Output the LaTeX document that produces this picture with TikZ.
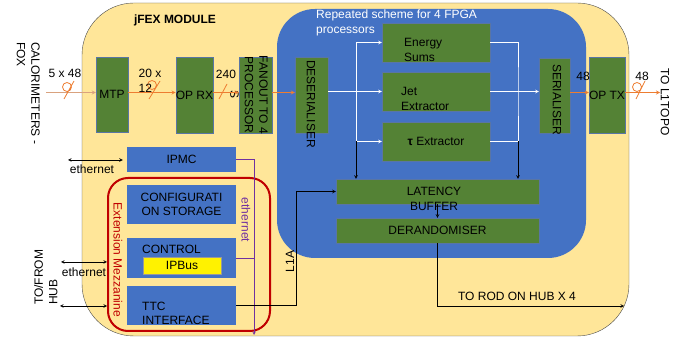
\documentclass[tikz,border=0pt]{standalone}
\usepackage{fontspec}
\setmainfont{Liberation Sans}
\usetikzlibrary{positioning}
\definecolor{modyellow}{HTML}{FFE699}
\definecolor{fpgablue}{HTML}{4472C4}
\definecolor{blockgreen}{HTML}{548235}
\definecolor{edgeblue}{HTML}{2F528F}
\definecolor{mezzred}{HTML}{C00000}
\definecolor{ethpurple}{HTML}{7030A0}
\definecolor{fibreorange}{HTML}{ED7D31}
\definecolor{caloline}{HTML}{D9A27E}

\begin{document}
\begin{tikzpicture}[
    x=1pt, y=-1pt,
    font=\fontsize{12}{14.5}\selectfont,
    module/.style={rectangle, draw=black!70, fill=modyellow, rounded corners=52pt},
    fpga/.style={rectangle, fill=fpgablue, rounded corners=38pt},
    blk/.style={rectangle, draw=edgeblue!80, fill=blockgreen, inner sep=0pt},
    ctrl/.style={rectangle, fill=fpgablue, inner sep=0pt, minimum width=109pt, align=center},
    vtext/.style={rotate=-90, align=center, inner sep=0pt},
    fibre/.style={-stealth, fibreorange, thick},
    fibresym/.style={fibreorange, thick},
    data/.style={-stealth, white, semithick},
    link/.style={-stealth, black, semithick},
    eth/.style={stealth-stealth, black, semithick},
    ethline/.style={ethpurple, semithick}
]
\useasboundingbox (0,0) rectangle (694,339);

% Module and FPGA area
\node[module, minimum width=547pt, minimum height=333pt] (module) at (355.5,169.5) {};
\node[fpga, minimum width=309pt, minimum height=249pt] (fpga) at (431.5,133.5) {};
\node[font=\fontsize{12}{14.5}\selectfont\bfseries] (modlbl) at (175,20) {jFEX MODULE};
\node[anchor=north west, align=left, text=white, inner sep=0pt] (fpgalbl) at (316,10) {Repeated scheme for 4 FPGA\\processors};

% Optical path
\node[blk, minimum width=32pt, minimum height=75pt] (mtp) at (112,94.5) {MTP};
\node[blk, minimum width=33pt, minimum height=76pt] (oprx) at (194.5,95) {OP RX};
\node[blk, minimum width=33pt, minimum height=76pt] (fanout) at (255.5,95) {};
\node[vtext] (fanouttxt) at (249,95) {FANOUT TO 4\\PROCESSOR\\S};
\node[blk, minimum width=33pt, minimum height=76pt] (deser) at (311.5,95) {};
\node[vtext] (desertxt) at (311,104) {DESERIALISER};
\node[blk, minimum width=31pt, minimum height=75pt] (ser) at (554.5,95.5) {};
\node[vtext] (sertxt) at (557,99.5) {SERIALISER};
\node[blk, minimum width=32pt, minimum height=76pt] (optx) at (607,95) {OP TX};

% Algorithm blocks
\node[blk, minimum width=108pt, minimum height=39pt] (energy) at (436,42.5) {};
\node[anchor=west, align=left, inner sep=0pt] (energytxt) at (404,50) {Energy\\Sums};
\node[blk, minimum width=108pt, minimum height=39pt] (jet) at (436,91.5) {};
\node[anchor=west, align=left, inner sep=0pt] (jettxt) at (401,99) {Jet\\Extractor};
\node[blk, minimum width=108pt, minimum height=39pt] (tau) at (436,141.5) {{\bfseries τ} Extractor};
\node[blk, minimum width=203pt, minimum height=25pt] (latency) at (437.5,191.5) {};
\node[align=center, inner sep=0pt] (lattxt) at (434,199) {LATENCY\\BUFFER};
\node[blk, minimum width=203pt, minimum height=25pt] (derand) at (437.5,230.5) {DERANDOMISER};

% Control side
\node[ctrl, minimum height=25pt] (ipmc) at (181.5,159.5) {IPMC};
\node[draw=mezzred, line width=2pt, rounded corners=20pt, minimum width=162pt, minimum height=153pt] (mezz) at (189,254.5) {};
\node[ctrl, minimum height=39pt] (config) at (181.5,204.5) {CONFIGURATI\\ON STORAGE};
\node[ctrl, minimum height=40pt] (control) at (181.5,258) {};
\node[anchor=west, inner sep=0pt] (controltxt) at (142,249) {CONTROL};
\node[rectangle, draw=black!40, fill=yellow, minimum width=78pt, minimum height=17pt, inner sep=0pt] (ipbus) at (182,265.5) {IPBus};
\node[ctrl, minimum height=39pt] (ttc) at (181.5,305.5) {};
\node[anchor=west, align=left, inner sep=0pt] (ttctxt) at (142,313.5) {TTC\\INTERFACE};
\node[rotate=-90, text=mezzred] (mezzlbl) at (118,260) {Extension Mezzanine};

% Outside labels
\node[rotate=-90, anchor=north west, align=left, inner sep=0pt] (calolbl) at (40,42) {CALORIMETERS -\\FOX};
\node[rotate=90, anchor=north west, align=left, inner sep=0pt] (hublbl) at (34,305) {TO/FROM\\HUB};
\node[rotate=-90] (topolbl) at (665,102) {TO L1TOPO};

% Free ends and turning points
\coordinate (caloin) at (46,92.5);
\coordinate (topoout) at (660,92.5);
\coordinate (split) at (356,91.5);
\coordinate (merge) at (518,91.5);
\coordinate (ethbus) at (254,335);
\coordinate (l1acol) at (296,0);
\coordinate (rodout) at (624,306);
\coordinate (ethin) at (68,160);
\coordinate (hubeth) at (61,262);
\coordinate (hubttc) at (60,306);

% Fibre links
\draw[-stealth, caloline, thick] (caloin) -- (mtp.west |- caloin);
\draw[fibre] (mtp.east |- caloin) -- (oprx.west |- caloin);
\draw[fibre] (oprx.east |- caloin) -- (fanout.west |- caloin);
\draw[fibre] (fanout.east |- caloin) -- (deser.west |- caloin);
\draw[fibre] (ser.east |- caloin) -- (optx.west |- caloin);
\draw[fibre] (optx.east |- caloin) -- (topoout);
\draw[fibresym] (67,87) circle (4.5pt) (64,99) -- (74,81);
\draw[fibresym] (152,85) circle (4.5pt) (149,99) -- (160,81);
\draw[fibresym] (219,99) -- (227,84);
\draw[fibresym] (637,87) circle (4.5pt) (636,99) -- (645,81);
\node (fibre1lbl) at (65,73) {5 x 48};
\node[align=left] (fibre2lbl) at (150,81) {20 x\\12};
\node (fibre3lbl) at (226,74) {240};
\node (fibre4lbl) at (583,76) {48};
\node (fibre5lbl) at (642,76) {48};

% Data inside the FPGA
\draw[data] (deser.east |- jet.west) -- (jet.west);
\draw[data] (split) |- (energy.west);
\draw[data] (split) |- (tau.west);
\draw[white, semithick] (energy.east) -| (merge) |- (tau.east);
\draw[data] (jet.east) -- (ser.west |- jet.east);
\draw[link] (split |- tau.west) -- (split |- latency.north);
\draw[link] (merge |- tau.east) -- (merge |- latency.north);
\draw[link] (latency.south) -- (derand.north);
\draw[link] (derand.south) |- (rodout);
\node (rodlbl) at (517,296) {TO ROD ON HUB X 4};

% Control links
\draw[ethline, -stealth] (ipmc.east) -| (ethbus);
\draw[ethline] (control.east) -- (control.east -| ethbus);
\node[rotate=-90, text=ethpurple] (ethlbl) at (246,220) {ethernet};
\draw[link] (ttc.east) -- (ttc.east -| l1acol) |- (latency.west);
\node[rotate=90] (l1albl) at (290,261.5) {L1A};
\draw[eth] (ethin) -- ([xshift=-4pt]ipmc.west |- ethin);
\node (ethinlbl) at (92,169) {ethernet};
\draw[eth] (hubeth) -- (hubeth -| mezz.west);
\node (hubethlbl) at (84,272) {ethernet};
\draw[eth] (hubttc) -- (hubttc -| mezz.west);

\end{tikzpicture}
\end{document}
